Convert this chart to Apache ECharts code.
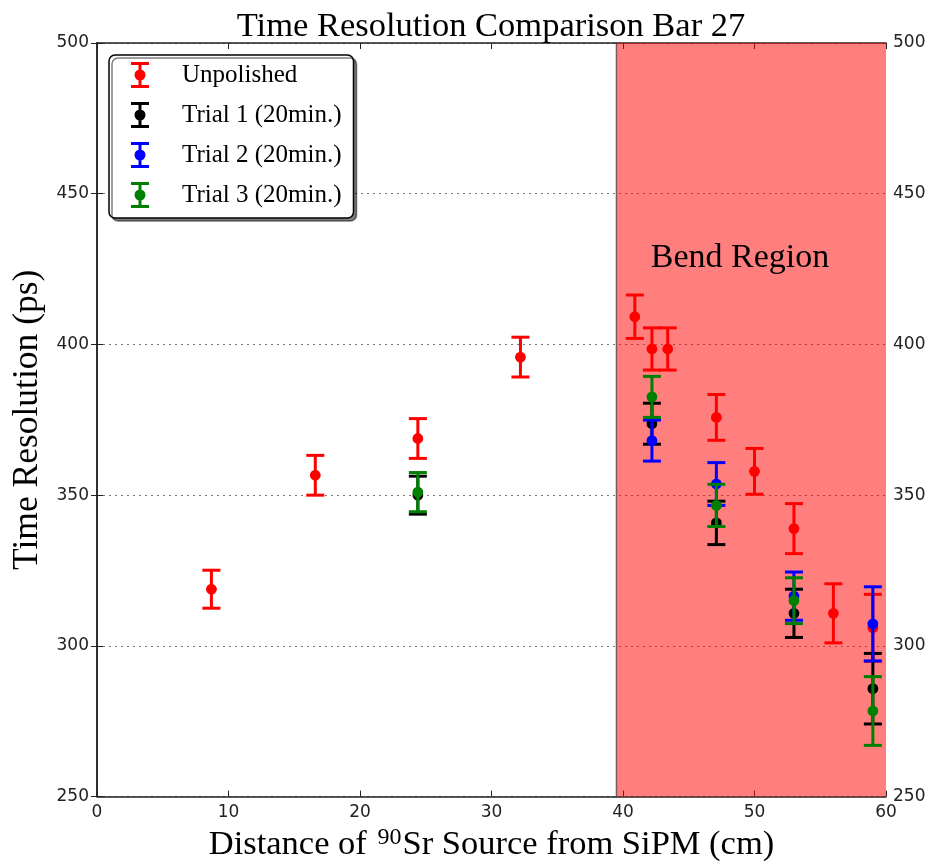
<!DOCTYPE html>
<html>
<head>
<meta charset="utf-8">
<script src="https://cdn.jsdelivr.net/npm/echarts@6/dist/echarts.min.js"></script>
<style>
html,body{margin:0;padding:0;background:#fff;}
#c{width:931px;height:867px;}
</style>
</head>
<body>
<div id="c"></div>
<script>
// ---- data ----
const seriesNames = ['Unpolished', 'Trial 1 (20min.)', 'Trial 2 (20min.)', 'Trial 3 (20min.)'];
const unpolishedX   = [8.7, 16.6, 24.4, 32.2, 40.9, 42.2, 43.4, 47.1, 50.0, 53.0, 56.0, 59.0];
const unpolishedY   = [318.8, 356.6, 368.8, 395.8, 409.2, 398.5, 398.5, 375.8, 357.9, 338.9, 310.8, 306.0];
const unpolishedErr = [6.3, 6.6, 6.6, 6.6, 7.2, 7.0, 7.0, 7.6, 7.6, 8.3, 9.8, 11.1];
const trial1X   = [24.4, 42.2, 47.1, 53.0, 59.0];
const trial1Y   = [350.0, 373.7, 340.8, 310.8, 285.8];
const trial1Err = [6.3, 6.8, 7.2, 8.0, 11.7];
const trial2X   = [42.2, 47.1, 53.0, 59.0];
const trial2Y   = [368.1, 353.7, 316.5, 307.3];
const trial2Err = [6.8, 7.1, 8.0, 12.3];
const trial3X   = [24.4, 42.2, 47.1, 53.0, 59.0];
const trial3Y   = [351.0, 382.6, 346.6, 315.0, 278.4];
const trial3Err = [6.5, 6.8, 7.0, 7.6, 11.4];
const bendRegion = [39.5, 60];
const bendLabel = ['Bend Region', 48.9, 428.5];
const xTicks = [0, 10, 20, 30, 40, 50, 60];
const yTicks = [250, 300, 350, 400, 450, 500];

const colors = ['#ff0000', '#000000', '#0000ff', '#008000'];
const serif = '"Liberation Serif", "DejaVu Serif", serif';
const sans = '"DejaVu Sans", sans-serif';

function zip(xs, ys, es) { return xs.map((x, i) => [x, ys[i], es[i]]); }

function errRender(color) {
  return function (params, api) {
    const x = api.value(0), y = api.value(1), e = api.value(2);
    const t = api.coord([x, y + e]), b = api.coord([x, y - e]), c = api.coord([x, y]);
    const hw = 9, lw = 3;
    return {
      type: 'group',
      children: [
        { type: 'line', shape: { x1: t[0], y1: t[1], x2: b[0], y2: b[1] }, style: { stroke: color, lineWidth: lw } },
        { type: 'line', shape: { x1: t[0] - hw, y1: t[1], x2: t[0] + hw, y2: t[1] }, style: { stroke: color, lineWidth: lw } },
        { type: 'line', shape: { x1: b[0] - hw, y1: b[1], x2: b[0] + hw, y2: b[1] }, style: { stroke: color, lineWidth: lw } },
        { type: 'circle', shape: { cx: c[0], cy: c[1], r: 5.4 }, style: { fill: color } }
      ]
    };
  };
}

const iconPath = 'path://M0 0H18V3H0Z M0 23H18V26H0Z M7.5 0H10.5V26H7.5Z M3.5 13A5.5 5.5 0 1 1 14.5 13A5.5 5.5 0 1 1 3.5 13Z';

const datasets = [
  zip(unpolishedX, unpolishedY, unpolishedErr),
  zip(trial1X, trial1Y, trial1Err),
  zip(trial2X, trial2Y, trial2Err),
  zip(trial3X, trial3Y, trial3Err)
];

const yMin = yTicks[0], yMax = yTicks[yTicks.length - 1];

const series = [{
  type: 'custom',
  name: 'bend',
  silent: true,
  z: 1,
  data: [[bendRegion[0], bendRegion[1]]],
  encode: { x: [0, 1] },
  renderItem: function (params, api) {
    const p0 = api.coord([api.value(0), yMax]);
    const p1 = api.coord([api.value(1), yMin]);
    const lp = api.coord([bendLabel[1], bendLabel[2]]);
    return {
      type: 'group',
      children: [
        { type: 'rect', shape: { x: p0[0], y: p0[1], width: p1[0] - p0[0], height: p1[1] - p0[1] }, style: { fill: 'rgba(255,0,0,0.5)' } },
        { type: 'line', shape: { x1: p0[0], y1: p0[1], x2: p0[0], y2: p1[1] }, style: { stroke: 'rgba(0,0,0,0.5)', lineWidth: 1.5 } },
        { type: 'text', x: lp[0], y: lp[1], style: { text: bendLabel[0], font: '34px ' + serif, fill: '#000', textAlign: 'center', textVerticalAlign: 'middle' } }
      ]
    };
  }
}];
datasets.forEach((d, i) => {
  series.push({
    type: 'custom',
    name: seriesNames[i],
    z: 2 + i,
    itemStyle: { color: colors[i] },
    data: d,
    encode: { x: 0, y: [1] },
    renderItem: errRender(colors[i])
  });
});

const axisLineStyle = { color: '#222', width: 1.5 };
const option = {
  animation: false,
  backgroundColor: '#fff',
  title: {
    text: 'Time Resolution Comparison Bar 27',
    left: 491, textAlign: 'center', top: 9, padding: 0,
    textStyle: { fontFamily: serif, fontSize: 34.5, fontWeight: 'normal', color: '#000' }
  },
  legend: {
    orient: 'vertical',
    left: 109, top: 55,
    data: seriesNames.map(n => ({ name: n, icon: iconPath })),
    itemWidth: 18, itemHeight: 26, itemGap: 14,
    padding: [7, 12, 10, 22],
    backgroundColor: '#fff',
    borderColor: '#000', borderWidth: 1.5, borderRadius: 6,
    shadowColor: 'rgba(0,0,0,0.5)', shadowBlur: 0, shadowOffsetX: 3, shadowOffsetY: 3,
    selectedMode: false,
    textStyle: { fontFamily: serif, fontSize: 25, color: '#000', padding: [0, 0, 0, 28] }
  },
  grid: { left: 97, right: 45, top: 43, bottom: 60, containLabel: false },
  xAxis: [{
    type: 'value', position: 'bottom', min: xTicks[0], max: xTicks[xTicks.length - 1], interval: 10,
    axisLine: { show: true, lineStyle: axisLineStyle },
    axisTick: { show: true, inside: true, length: 6, lineStyle: { color: '#222' } },
    axisLabel: { fontFamily: sans, fontSize: 17, color: '#222', margin: 7 },
    splitLine: { show: false },
    name: '{a|Distance of }{s|90}{a|Sr Source from SiPM (cm)}',
    nameLocation: 'middle', nameGap: 28,
    nameTextStyle: {
      rich: {
        a: { fontFamily: serif, fontSize: 34.5, color: '#000' },
        s: { fontFamily: serif, fontSize: 24, color: '#000', padding: [0, 1, 14, 2] }
      }
    }
  }, {
    type: 'value', position: 'top', min: xTicks[0], max: xTicks[xTicks.length - 1], interval: 10,
    axisLine: { show: true, lineStyle: axisLineStyle },
    axisTick: { show: true, inside: true, length: 6, lineStyle: { color: '#222' } },
    axisLabel: { show: false },
    splitLine: { show: false }
  }],
  yAxis: [{
    type: 'value', position: 'left', min: yMin, max: yMax, interval: 50,
    axisLine: { show: true, lineStyle: axisLineStyle },
    axisTick: { show: true, inside: true, length: 6, lineStyle: { color: '#222' } },
    axisLabel: { fontFamily: sans, fontSize: 17, color: '#222', margin: 8 },
    splitLine: { show: true, lineStyle: { color: '#777', width: 1, type: [2, 4] } },
    name: 'Time Resolution (ps)', nameLocation: 'middle', nameGap: 49, nameRotate: 90,
    nameTextStyle: { fontFamily: serif, fontSize: 35.5, color: '#000' }
  }, {
    type: 'value', position: 'right', min: yMin, max: yMax, interval: 50,
    axisLine: { show: true, lineStyle: axisLineStyle },
    axisTick: { show: true, inside: true, length: 6, lineStyle: { color: '#222' } },
    axisLabel: { fontFamily: sans, fontSize: 17, color: '#222', margin: 7 },
    splitLine: { show: false }
  }],
  series: series
};
const chart = echarts.init(document.getElementById('c'), null, { renderer: 'canvas' });
chart.setOption(option);
</script>
</body>
</html>
